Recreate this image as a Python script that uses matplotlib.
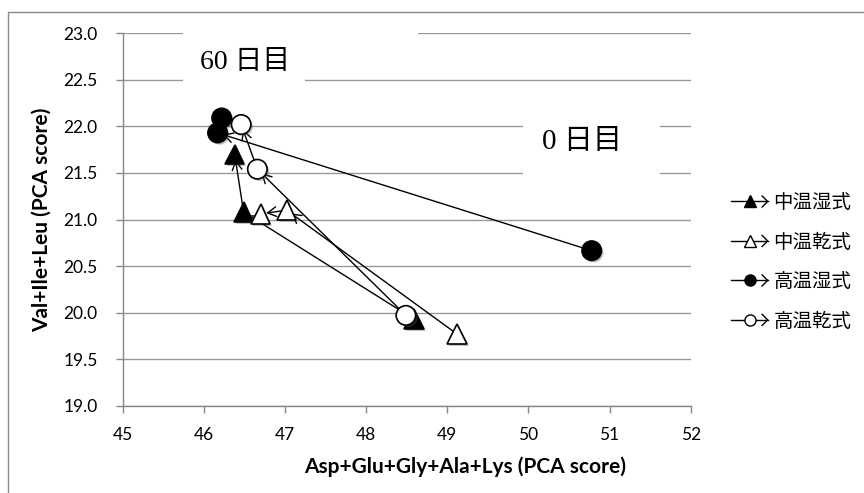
import matplotlib
matplotlib.use("Agg")
import matplotlib.pyplot as plt
from matplotlib.lines import Line2D
from matplotlib.patches import Rectangle, FancyArrowPatch
from matplotlib.legend_handler import HandlerBase
import matplotlib.patheffects as pe

plt.rcParams['font.family'] = ['Lato', 'Noto Sans CJK JP', 'DejaVu Sans']

# Series: day 0 -> intermediate -> day 60
series_names = ["中温湿式", "中温乾式", "高温湿式", "高温乾式"]
x_mid_wet = [48.59, 46.49, 46.38]
y_mid_wet = [19.93, 21.08, 21.70]
x_mid_dry = [49.12, 47.02, 46.70]
y_mid_dry = [19.77, 21.10, 21.06]
x_high_wet = [50.78, 46.17, 46.22]
y_high_wet = [20.665, 21.93, 22.09]
x_high_dry = [48.49, 46.66, 46.46]
y_high_dry = [19.97, 21.54, 22.02]

x_ticks = [45, 46, 47, 48, 49, 50, 51, 52]
y_ticks = [19.0, 19.5, 20.0, 20.5, 21.0, 21.5, 22.0, 22.5, 23.0]

styles = [
    dict(marker="^", mfc="black"),
    dict(marker="^", mfc="white"),
    dict(marker="o", mfc="black"),
    dict(marker="o", mfc="white"),
]
data = [(x_mid_wet, y_mid_wet), (x_mid_dry, y_mid_dry),
        (x_high_wet, y_high_wet), (x_high_dry, y_high_dry)]

W, H = 864, 493
fig = plt.figure(figsize=(W / 100, H / 100), dpi=100)
ax = fig.add_axes([122.7 / W, 1 - 405.7 / H, (690.7 - 122.7) / W, (405.7 - 33.3) / H])

# outer chart frame
fig.patches.append(Rectangle((7.5 / W, -0.1), 1.2, 1 - 11.7 / H + 0.1,
                             transform=fig.transFigure, fill=False,
                             edgecolor="#8a8a8a", lw=1.0))

ax.set_xlim(45, 52)
ax.set_ylim(19, 23)
ax.set_xticks(x_ticks)
ax.set_yticks(y_ticks)
ax.set_yticklabels([f"{v:.1f}" for v in y_ticks])
ax.set_xticklabels([str(v) for v in x_ticks])
ax.tick_params(axis="both", colors="#888888", labelcolor="black", labelsize=12.5,
               length=5, width=1, direction="out")
ax.tick_params(axis="y", pad=13)
ax.tick_params(axis="x", pad=10)
for s in ["top", "right"]:
    ax.spines[s].set_visible(False)
for s in ["left", "bottom"]:
    ax.spines[s].set_color("#888888")
    ax.spines[s].set_linewidth(1)
ax.yaxis.grid(True, color="#999999", lw=1)
ax.set_axisbelow(True)

ax.set_xlabel("Asp+Glu+Gly+Ala+Lys (PCA score)", fontsize=15, fontweight="bold", labelpad=12)
ax.xaxis.set_label_coords(0.603, -0.135)
ax.set_ylabel("Val+Ile+Leu (PCA score)", fontsize=15, fontweight="bold", labelpad=8)

# white label boxes over the gridlines
ax.add_patch(Rectangle((45.74, 22.42), 47.25 - 45.74, 0.65, facecolor="white",
                       edgecolor="none", zorder=1.5))
ax.add_patch(Rectangle((47.25, 22.9), 48.64 - 47.25, 0.17, facecolor="white",
                       edgecolor="none", zorder=1.5, clip_on=False))
ax.add_patch(Rectangle((49.93, 21.4), 51.62 - 49.93, 0.65, facecolor="white",
                       edgecolor="none", zorder=1.5))
lbl_font = ["Liberation Serif", "Noto Sans CJK JP"]
ax.text(46.51, 22.69, "60 日目", fontsize=20, family=lbl_font, ha="center",
        va="center", zorder=5)
ax.text(50.66, 21.83, "0 日目", fontsize=21, family=lbl_font, ha="center",
        va="center", zorder=5)

# connecting arrows
for (xs, ys) in data:
    for i in range(len(xs) - 1):
        arr = FancyArrowPatch((xs[i], ys[i]), (xs[i + 1], ys[i + 1]),
                              arrowstyle="->,head_length=0.45,head_width=0.25",
                              mutation_scale=14, lw=1.0, color="black",
                              shrinkA=0, shrinkB=4, zorder=2)
        ax.add_patch(arr)

shadow = [pe.SimplePatchShadow(offset=(1.5, -1.5), shadow_rgbFace="#555555", alpha=0.35),
          pe.Normal()]
handles = []
for name, (xs, ys), st in zip(series_names, data, styles):
    ax.plot(xs, ys, linestyle="none", marker=st["marker"], markersize=14,
            markerfacecolor=st["mfc"], markeredgecolor="black", markeredgewidth=1.2,
            zorder=3, path_effects=shadow)
    handles.append(Line2D([], [], color="black", lw=1, marker=st["marker"],
                          markersize=8, markerfacecolor=st["mfc"],
                          markeredgecolor="black", markeredgewidth=1, label=name))


class ArrowLineHandler(HandlerBase):
    def create_artists(self, legend, orig_handle, xdescent, ydescent, width,
                       height, fontsize, trans):
        y = height / 2 - ydescent
        x0 = -xdescent
        x1 = x0 + width
        line = Line2D([x0, x1], [y, y], color="black", lw=1)
        mk = Line2D([x0 + width * 0.52], [y], linestyle="none",
                    marker=orig_handle.get_marker(),
                    markersize=orig_handle.get_markersize(),
                    markerfacecolor=orig_handle.get_markerfacecolor(),
                    markeredgecolor="black", markeredgewidth=1)
        chev = Line2D([x1 - 4, x1, x1 - 4], [y + 4, y, y - 4], color="black", lw=1)
        arts = [line, mk, chev]
        for a in arts:
            a.set_transform(trans)
        return arts


leg = fig.legend(handles=handles, loc="center left",
                 bbox_to_anchor=(721 / W, 1 - 262 / H),
                 frameon=False, handlelength=1.9, handletextpad=0.3,
                 labelspacing=0.95, borderpad=0,
                 handler_map={Line2D: ArrowLineHandler()},
                 prop={"family": ["Noto Sans CJK JP"], "size": 14})

fig.savefig("out.png", dpi=100)
